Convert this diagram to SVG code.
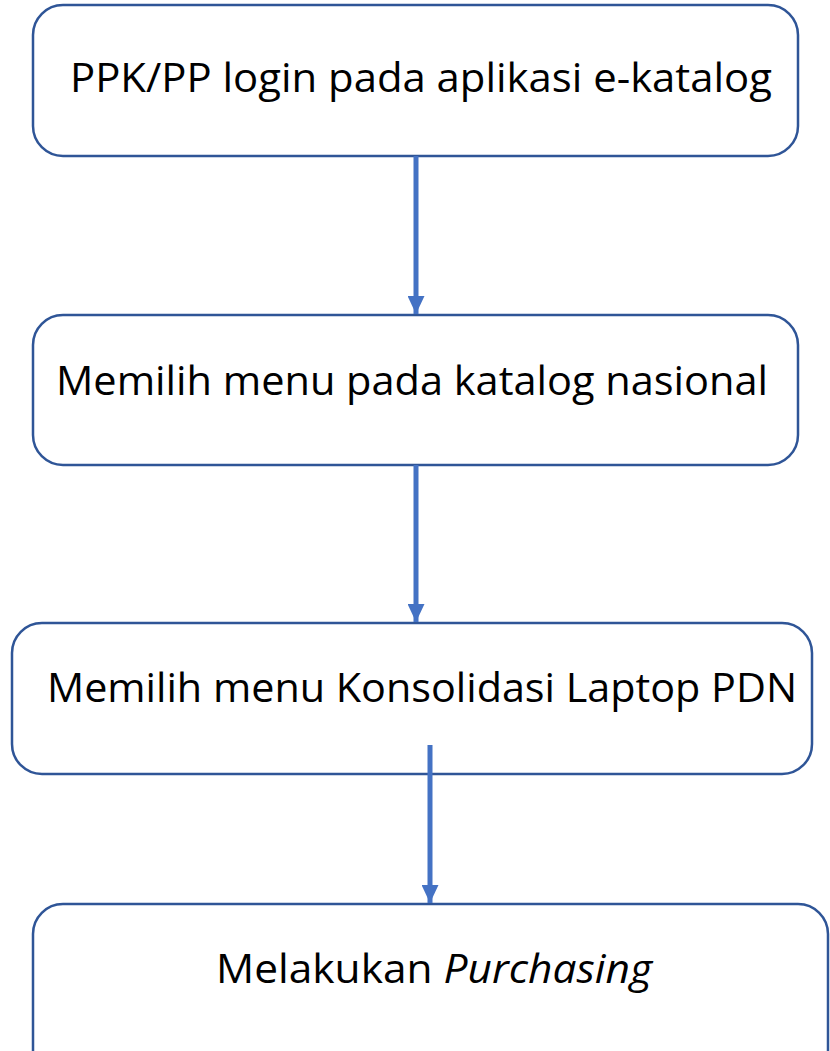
<svg xmlns="http://www.w3.org/2000/svg" width="830" height="1051" viewBox="0 0 830 1051">
<defs>
<style>
.box{fill:#ffffff;stroke:#2F5597;stroke-width:2.5}
.lbl{font-family:"Open Sans","Noto Sans",sans-serif;font-size:41px;fill:#000000}
.conn{stroke:#4472C4;stroke-width:5;fill:none}
</style>
<marker id="ah" markerUnits="userSpaceOnUse" markerWidth="18" markerHeight="17" refX="18" refY="8.5" orient="auto">
<path d="M0,0 L18,8.5 L0,17 Z" fill="#4472C4"/>
</marker>
</defs>
<rect width="830" height="1051" fill="#ffffff"/>
<g id="node1">
<rect class="box" x="33" y="5" width="765" height="151" rx="30"/>
<text class="lbl" x="70" y="92" textLength="702" lengthAdjust="spacingAndGlyphs">PPK/PP login pada aplikasi e-katalog</text>
</g>
<g id="node2">
<rect class="box" x="33" y="315" width="765" height="150" rx="30"/>
<text class="lbl" x="56" y="395" textLength="712" lengthAdjust="spacingAndGlyphs">Memilih menu pada katalog nasional</text>
</g>
<g id="node3">
<rect class="box" x="12" y="623" width="800" height="151" rx="30"/>
<text class="lbl" x="47" y="702" textLength="750" lengthAdjust="spacingAndGlyphs">Memilih menu Konsolidasi Laptop PDN</text>
</g>
<g id="node4">
<rect class="box" x="33" y="904" width="795" height="180" rx="30"/>
<text class="lbl" x="216" y="983" textLength="436" lengthAdjust="spacingAndGlyphs">Melakukan <tspan font-style="italic">Purchasing</tspan></text>
</g>
<g id="connectors">
<line class="conn" x1="416" y1="156" x2="416" y2="314" marker-end="url(#ah)"/>
<line class="conn" x1="416" y1="465" x2="416" y2="622" marker-end="url(#ah)"/>
<line class="conn" x1="430" y1="745" x2="430" y2="903" marker-end="url(#ah)"/>
</g>
</svg>
